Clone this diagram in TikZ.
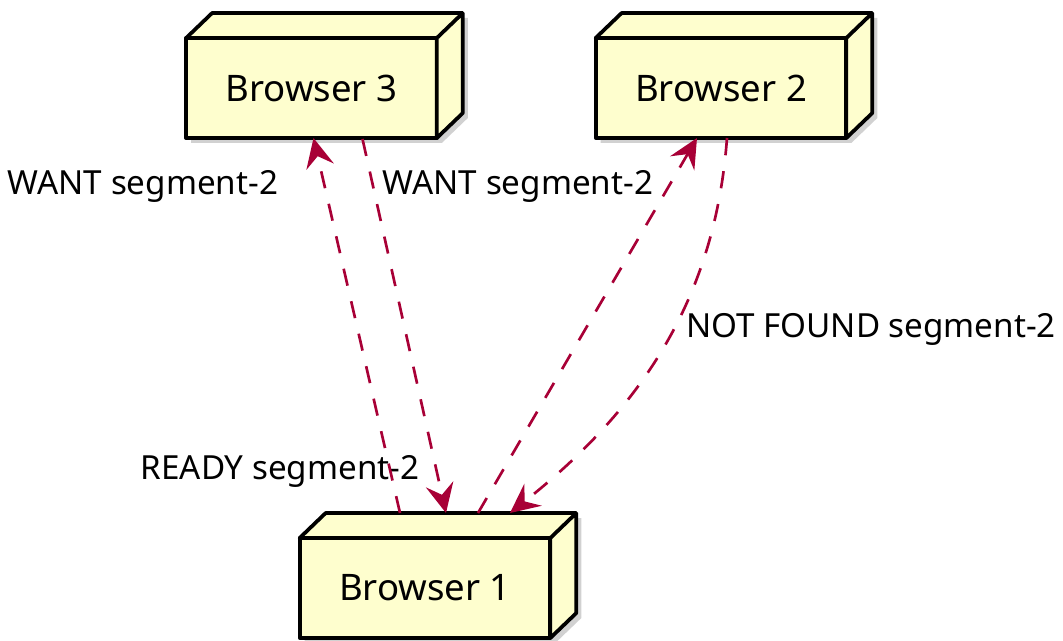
\documentclass[tikz,border=0pt]{standalone}
\usepackage{fontspec}
\setmainfont{Noto Sans}
\usetikzlibrary{arrows.meta,calc,backgrounds}
\definecolor{nodefill}{HTML}{FEFECE}
\definecolor{msgred}{HTML}{A80036}
\tikzset{
  browser/.style={draw,fill=nodefill,line width=2.8pt,line join=round,
    minimum width=188pt,minimum height=75pt,inner sep=0pt,outer sep=0pt,
    font=\fontsize{27.4}{32}\selectfont},
  boxface/.style={draw,fill=nodefill,line width=2.8pt,line join=round},
  boxshadow/.style={fill=black,opacity=0.18},
  msg/.style={msgred,line width=2pt,dash pattern=on 13pt off 12pt,
    -{Stealth[length=22pt,width=21pt,inset=8pt]}},
  lbl/.style={font=\fontsize{24.9}{30}\selectfont,inner sep=0pt}
}
\begin{document}
\begin{tikzpicture}[x=0.75pt,y=-0.75pt]
  \useasboundingbox (0,0) rectangle (1063,641);
  \node[browser] (b3) at (311.5,88) {\raisebox{-2pt}{Browser 3}};
  \node[browser] (b2) at (721,88) {\raisebox{-2pt}{Browser 2}};
  \node[browser] (b1) at (425,588) {\raisebox{-2pt}{Browser 1}};
  % depth faces, shadows behind
  \foreach \b in {b1,b2,b3} {
    \draw[boxface] (\b.north west) -- ++(26,-25) -- ($(\b.north east)+(26,-25)$)
      -- ($(\b.south east)+(26,-25)$) -- (\b.south east) -- (\b.north east) -- cycle
      (\b.north east) -- ++(26,-25);
    \begin{pgfonlayer}{background}
      \fill[boxshadow] ($(\b.south west)+(5,5)$) -- ($(\b.north west)+(5,5)$)
        -- ($(\b.north west)+(31,-20)$) -- ($(\b.north east)+(31,-20)$)
        -- ($(\b.south east)+(31,-20)$) -- ($(\b.south east)+(5,5)$) -- cycle;
    \end{pgfonlayer}
  }
  \node[lbl] (want1) at (143,186) {WANT segment-2};
  \node[lbl] (want2) at (518,186) {WANT segment-2};
  \node[lbl] (notfound) at (871,329) {NOT FOUND segment-2};
  \node[lbl] (ready) at (280,471) {READY segment-2};
  \draw[msg] ($(b1.north)+(-25,-25)$) -- ($(b3.south)+(2,0)$);
  \draw[msg] ($(b3.south)+(51,1)$) -- ($(b1.north)+(21,-25)$);
  \draw[msg] ($(b1.north)+(53,-25)$) -- ($(b2.south)+(-24,0)$);
  \draw[msg] ($(b2.south)+(6,0)$) .. controls (715,300) and (640,410) .. ($(b1.north)+(85,-25)$);
\end{tikzpicture}
\end{document}
